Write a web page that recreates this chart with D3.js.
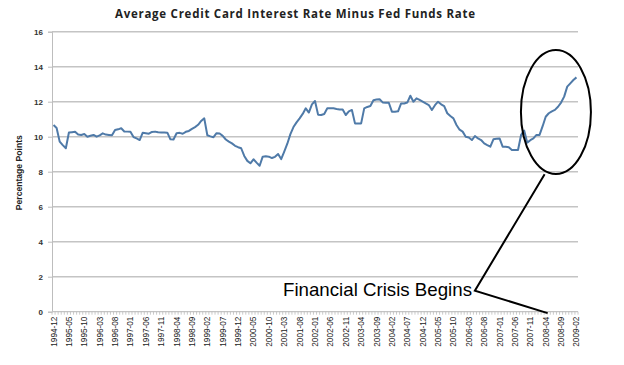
<!DOCTYPE html>
<html>
<head>
<meta charset="utf-8">
<script src="https://cdn.jsdelivr.net/npm/d3@7"></script>
<style>
  body { margin: 0; background: #fff; }
  text { font-family: "Liberation Sans", Arial, sans-serif; }
</style>
</head>
<body>
<div id="chart"></div>
<script>
// spread in percentage points, monthly from 1994-12 to 2009-02
const spread = [
  10.67, 10.50, 9.72, 9.52, 9.34, 10.24, 10.26, 10.28, 10.12, 10.10,
  10.15, 10.00, 10.05, 10.10, 10.00, 10.08, 10.19, 10.12, 10.10, 10.08,
  10.38, 10.42, 10.48, 10.30, 10.29, 10.28, 9.98, 9.90, 9.81, 10.23,
  10.20, 10.17, 10.27, 10.29, 10.25, 10.24, 10.24, 10.23, 9.85, 9.84,
  10.20, 10.22, 10.17, 10.28, 10.33, 10.45, 10.55, 10.68, 10.90, 11.05,
  10.08, 10.02, 9.97, 10.20, 10.18, 10.05, 9.84, 9.72, 9.62, 9.48,
  9.40, 9.34, 8.90, 8.62, 8.48, 8.71, 8.52, 8.34, 8.86, 8.88,
  8.86, 8.78, 8.85, 9.01, 8.72, 9.15, 9.60, 10.15, 10.55, 10.82,
  11.05, 11.30, 11.62, 11.38, 11.85, 12.04, 11.26, 11.24, 11.30, 11.62,
  11.62, 11.62, 11.58, 11.56, 11.56, 11.24, 11.45, 11.53, 10.76, 10.75,
  10.76, 11.62, 11.70, 11.75, 12.08, 12.12, 12.14, 11.96, 11.94, 11.94,
  11.43, 11.43, 11.45, 11.90, 11.90, 11.95, 12.34, 12.00, 12.19, 12.10,
  12.00, 11.90, 11.81, 11.53, 11.80, 12.00, 11.85, 11.75, 11.34, 11.18,
  11.05, 10.67, 10.40, 10.29, 10.00, 9.95, 9.81, 10.04, 9.90, 9.81,
  9.62, 9.52, 9.43, 9.85, 9.88, 9.90, 9.43, 9.43, 9.40, 9.24,
  9.24, 9.24, 10.10, 10.35, 9.66, 9.80, 9.90, 10.10, 10.10, 10.60,
  11.14, 11.34, 11.45, 11.53, 11.71, 11.95, 12.29, 12.86, 13.05, 13.24,
  13.39
];

const tickLabels = [
  "1994-12", "1995-05", "1995-10", "1996-03", "1996-08", "1997-01", "1997-06",
  "1997-11", "1998-04", "1998-09", "1999-02", "1999-07", "1999-12", "2000-05",
  "2000-10", "2001-03", "2001-08", "2002-01", "2002-06", "2002-11", "2003-04",
  "2003-09", "2004-02", "2004-07", "2004-12", "2005-05", "2005-10", "2006-03",
  "2006-08", "2007-01", "2007-06", "2007-11", "2008-04", "2008-09", "2009-02"
];

const yTicks = [0, 2, 4, 6, 8, 10, 12, 14, 16];

const svgWidth = 624;
const svgHeight = 365;

const margin = {
  top: 31.7,
  right: 46,
  bottom: 53.3,
  left: 52
};

const width = svgWidth - margin.left - margin.right;
const height = svgHeight - margin.top - margin.bottom;

const fmt = d3.timeFormat("%Y-%m");
const months = d3.timeMonth.range(new Date(1994, 11, 1), new Date(2009, 2, 1)).map(fmt);
const data = months.map((m, i) => ({month: m, value: spread[i]}));

const svg = d3.select("#chart")
  .append("svg")
  .attr("width", svgWidth)
  .attr("height", svgHeight);

const chartGroup = svg.append("g")
  .attr("transform", `translate(${margin.left}, ${margin.top})`);

const xScale = d3.scalePoint()
  .domain(months)
  .range([0, width])
  .padding(0.5);

const yScale = d3.scaleLinear()
  .domain([0, 16])
  .range([height, 0]);

const step = xScale.step();

// gridlines
chartGroup.append("g")
  .selectAll("line")
  .data(yTicks.filter(d => d > 0))
  .join("line")
  .attr("x1", 0)
  .attr("x2", width)
  .attr("y1", d => yScale(d))
  .attr("y2", d => yScale(d))
  .attr("stroke", "#c4c4c4")
  .attr("stroke-width", 1.6);

// y axis
const leftAxis = d3.axisLeft(yScale)
  .tickValues(yTicks)
  .tickSize(4)
  .tickPadding(5);

const yAxis = chartGroup.append("g").call(leftAxis);
yAxis.select(".domain").attr("stroke", "#bdbdbd");
yAxis.selectAll(".tick line").attr("stroke", "#bdbdbd");
yAxis.selectAll(".tick text")
  .attr("font-size", "8px")
  .attr("font-weight", "700")
  .attr("fill", "#333")
  .style("font-family", "'Liberation Sans', Arial, sans-serif");

// x axis line and category tick marks
chartGroup.append("line")
  .attr("x1", 0)
  .attr("x2", width)
  .attr("y1", height)
  .attr("y2", height)
  .attr("stroke", "#c4c4c4")
  .attr("stroke-width", 1.2);

chartGroup.append("g")
  .selectAll("line")
  .data(d3.range(months.length + 1))
  .join("line")
  .attr("x1", d => d * step)
  .attr("x2", d => d * step)
  .attr("y1", height)
  .attr("y2", height + 3)
  .attr("stroke", "#bdbdbd")
  .attr("stroke-width", 0.8);

// x labels
chartGroup.append("g")
  .selectAll("text")
  .data(tickLabels)
  .join("text")
  .attr("transform", d => `translate(${xScale(d) + 3}, ${height + 5}) rotate(-90)`)
  .attr("text-anchor", "end")
  .attr("font-size", "8.5px")
  .attr("fill", "#1a1a1a")
  .attr("textLength", 30)
  .attr("lengthAdjust", "spacingAndGlyphs")
  .text(d => d);

// series line
const line = d3.line()
  .x(d => xScale(d.month))
  .y(d => yScale(d.value));

chartGroup.append("path")
  .datum(data)
  .attr("d", line)
  .attr("fill", "none")
  .attr("stroke", "#4f7aa8")
  .attr("stroke-width", 2)
  .attr("stroke-linejoin", "round");

// title
svg.append("text")
  .attr("x", 295)
  .attr("y", 18)
  .attr("text-anchor", "middle")
  .attr("font-size", "11.5px")
  .attr("font-weight", "700")
  .attr("fill", "#222")
  .attr("textLength", 360)
  .attr("lengthAdjust", "spacing")
  .style("font-family", "'Open Sans', sans-serif")
  .text("Average Credit Card Interest Rate Minus Fed Funds Rate");

// y axis title
svg.append("text")
  .attr("transform", `translate(22, ${margin.top + height / 2 + 1}) rotate(-90)`)
  .attr("text-anchor", "middle")
  .attr("font-size", "8.5px")
  .attr("font-weight", "700")
  .attr("fill", "#222")
  .attr("textLength", 75)
  .attr("lengthAdjust", "spacingAndGlyphs")
  .text("Percentage Points");

// annotation: ellipse around the last months
const annot = chartGroup.append("g");
annot.append("ellipse")
  .attr("cx", xScale("2008-07") + 1)
  .attr("cy", yScale(11.41))
  .attr("rx", 35)
  .attr("ry", 62)
  .attr("fill", "none")
  .attr("stroke", "#000")
  .attr("stroke-width", 2);

const elbow = [xScale("2006-04") + 3, yScale(1.2)];
annot.append("polyline")
  .attr("points", [
    [xScale("2008-03") + 2, yScale(7.86)],
    elbow,
    [xScale("2008-03") + 5, yScale(-0.08)]
  ].map(p => p.join(",")).join(" "))
  .attr("fill", "none")
  .attr("stroke", "#000")
  .attr("stroke-width", 2);

annot.append("text")
  .attr("x", 283 - margin.left)
  .attr("y", 296.5 - margin.top)
  .attr("font-size", "18.5px")
  .attr("fill", "#000")
  .attr("textLength", 189)
  .attr("lengthAdjust", "spacingAndGlyphs")
  .text("Financial Crisis Begins");
</script>
</body>
</html>
